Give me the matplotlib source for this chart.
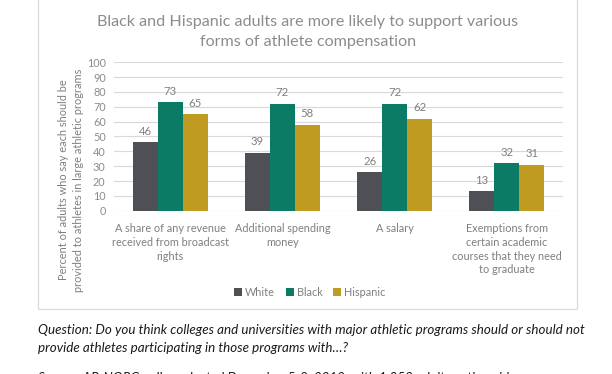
import matplotlib
matplotlib.use("Agg")
import matplotlib.pyplot as plt
from matplotlib.patches import Rectangle, Patch
import numpy as np

categories = [
    "A share of any revenue\nreceived from broadcast\nrights",
    "Additional spending\nmoney",
    "A salary",
    "Exemptions from\ncertain academic\ncourses that they need\nto graduate",
]
series_names = ["White", "Black", "Hispanic"]
white = [46, 39, 26, 13]
black = [73, 72, 72, 32]
hispanic = [65, 58, 62, 31]
yticks = [0, 10, 20, 30, 40, 50, 60, 70, 80, 90, 100]

colors = ["#4f5055", "#0b7b66", "#bf9b22"]
FONT = "Lato"
W, H = 612, 374
fig = plt.figure(figsize=(W / 100, H / 100), dpi=100)
fig.patch.set_facecolor("white")

def fx(px):
    return px / W

def fy(py):
    return 1 - py / H

def fit(t, target, horizontal=True):
    r = fig.canvas.get_renderer()
    for _ in range(3):
        bb = t.get_window_extent(renderer=r)
        cur = bb.width if horizontal else bb.height
        t.set_fontsize(t.get_fontsize() * target / cur)

# chart box
box = Rectangle((fx(38), fy(309)), fx(577) - fx(38), fy(-5) - fy(309),
                transform=fig.transFigure, fill=False, edgecolor="#d9d9d9", linewidth=0.9)
fig.add_artist(box)

ax = fig.add_axes([fx(114), fy(210.7), fx(563) - fx(114), fy(62.3) - fy(210.7)])
x = np.arange(len(categories))
bw = 0.222
for i, (vals, name) in enumerate(zip([white, black, hispanic], series_names)):
    bars = ax.bar(x + (i - 1) * bw, vals, bw, color=colors[i], label=name, zorder=3)
    for b, v in zip(bars, vals):
        ax.annotate(str(v), (b.get_x() + b.get_width() / 2, v), xytext=(0, 4),
                    textcoords="offset points", ha="center", va="bottom",
                    fontsize=8.2, color="#7f7f7f", family=FONT)

ax.set_xlim(-0.5, len(categories) - 0.5)
ax.set_ylim(0, 100)
ax.set_yticks(yticks)
ax.set_yticklabels([str(t) for t in yticks], fontsize=7.8, color="#8c8c8c", family=FONT)
ax.set_xticks(x)
ax.set_xticklabels(categories, fontsize=7.8, color="#7f7f7f", family=FONT, linespacing=1.3)
ax.tick_params(axis="both", length=0)
ax.tick_params(axis="x", pad=9)
ax.tick_params(axis="y", pad=6)
ax.grid(axis="y", color="#d9d9d9", linewidth=0.8, zorder=0)
for s in ax.spines.values():
    s.set_visible(False)

yl = fig.text(fx(71), fy(180), "Percent of adults who say each should be\nprovided to athletes in large athletic programs",
              rotation=90, ha="center", va="center", fontsize=8.6, color="#7f7f7f", family=FONT,
              linespacing=1.55)
fit(yl, 224, horizontal=False)

tt = fig.text(fx(308), fy(32), "Black and Hispanic adults are more likely to support various\nforms of athlete compensation",
              ha="center", va="center", fontsize=12.5, color="#8c8c8c", family=FONT, linespacing=1.55)
fit(tt, 426)

handles = [Patch(facecolor=c, label=n) for c, n in zip(colors, series_names)]
fig.legend(handles=handles, loc="center", bbox_to_anchor=(fx(310), fy(292)), ncol=3, frameon=False,
           prop={"family": FONT, "size": 7.8}, labelcolor="#7f7f7f", handlelength=0.7, handleheight=0.7,
           handletextpad=0.3, columnspacing=1.0)

q = fig.text(fx(38), fy(339), "Question: Do you think colleges and universities with major athletic programs should or should not\nprovide athletes participating in those programs with\u2026?",
             ha="left", va="center", fontsize=9.6, style="italic", color="#1a1a1a", family=FONT, linespacing=1.5)
fit(q, 547)
fig.text(fx(38), fy(378), "Source: AP-NORC poll conducted December 5-8, 2019, with 1,053 adults nationwide.",
         ha="left", va="center", fontsize=q.get_fontsize(), style="italic", color="#1a1a1a", family=FONT)

fig.savefig("out.png", dpi=100)
